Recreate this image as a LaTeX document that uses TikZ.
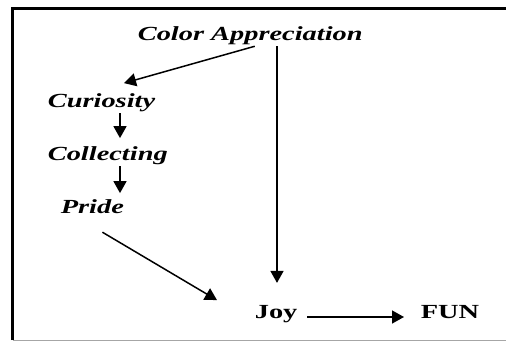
\documentclass[tikz,border=0pt]{standalone}
\usepackage{fontspec}
\setmainfont{Liberation Serif}
\usetikzlibrary{arrows.meta}

\begin{document}
\begin{tikzpicture}[x=1pt,y=1pt,>={Triangle[length=12pt,width=13pt]},line join=miter,
  lbl/.style={inner sep=0pt,outer sep=2pt,anchor=base west,xscale=1.42,font=\fontsize{20}{20}\selectfont\bfseries\itshape},
  word/.style={lbl,font=\fontsize{20}{20}\selectfont\bfseries},
  arr/.style={->,line width=1.5pt}]
\useasboundingbox (0,0) rectangle (506,341);
\draw[line width=3pt] (12.5,1) -- (12.5,332.5) -- (506,332.5);
\draw[gray!70,line width=1pt] (12.5,1) -- (506,1);
\node[lbl] (ca) at (135,301) {Color Appreciation};
\node[lbl] (cu) at (45,234) {Curiosity};
\node[lbl] (co) at (45,181) {Collecting};
\node[lbl] (pr) at (58,128) {Pride};
\node[word] (jo) at (252,23) {Joy};
\node[word] (fu) at (418,23) {FUN};
\coordinate (ax) at (120,0);
\coordinate (vx) at (277,0);
\draw[arr] ([xshift=4.5pt]ca.south) -- ([xshift=22.5pt,yshift=8pt]cu.north);
\draw[arr,shorten >=20pt] (ca.south -| vx) -- (jo.north -| vx);
\draw[arr,shorten >=6pt] (cu.south -| ax) -- (co.north -| ax);
\draw[arr,shorten >=4pt] (co.south -| ax) -- (pr.north -| ax);
\draw[arr] ([xshift=10pt,yshift=-17pt]pr.south) -- ([xshift=-35pt,yshift=13.5pt]jo.west);
\draw[arr,shorten <=7pt,shorten >=14pt] ([yshift=1pt]jo.base east) -- ([yshift=1pt]fu.base west);
\end{tikzpicture}
\end{document}
